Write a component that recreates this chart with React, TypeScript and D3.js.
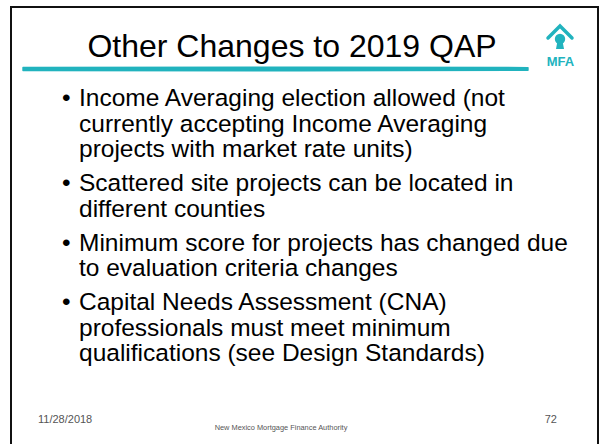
import React from "react";
import * as d3 from "d3";

const title = "Other Changes to 2019 QAP";
const bullets: string[][] = [
  ["Income Averaging election allowed (not", "currently accepting Income Averaging", "projects with market rate units)"],
  ["Scattered site projects can be located in", "different counties"],
  ["Minimum score for projects has changed due", "to evaluation criteria changes"],
  ["Capital Needs Assessment (CNA)", "professionals must meet minimum", "qualifications (see Design Standards)"],
];
const footerDate = "11/28/2018";
const footerOrg = "New Mexico Mortgage Finance Authority";
const pageNumber = "72";
const logoText = "MFA";

const W = 600;
const H = 444;
const TEAL = "#21b3be";
const FONT = "'Liberation Sans', Arial, sans-serif";

export default function App() {
  const lines: { text: string; b: number; first: boolean; idx: number }[] = [];
  let idx = 0;
  bullets.forEach((ls, b) => ls.forEach((t, i) => lines.push({ text: t, b, first: i === 0, idx: idx++ })));
  const lineH = 25.7;
  const gap = 8;
  const y = d3.scaleLinear().domain([0, 1]).range([106, 106 + lineH]);
  const yOf = (l: { b: number; idx: number }) => y(l.idx) + l.b * gap;

  return (
    <svg width={W} height={H} style={{ position: "absolute", left: 0, top: 0, background: "#fff" }}>
      <rect x={0} y={0} width={W} height={H} fill="#fff" />
      {/* frame */}
      <path d={`M11,${H + 2} L11,7 L598,7 L598,${H + 2}`} fill="none" stroke="#111" strokeWidth={2} />
      {/* title */}
      <text x={292} y={57} textAnchor="middle" fontFamily={FONT} fontSize={32} fill="#000">
        {title}
      </text>
      {/* teal rule */}
      <path d="M23,67.4 L300,67.2 L528,67.6 L528,70.2 L300,70.8 L23,70.6 Z" fill={TEAL} stroke={TEAL} strokeWidth={1.4} strokeLinejoin="round" />
      {/* logo */}
      <g fill={TEAL} stroke="none">
        <polyline points="548,38 560,26 572,38" fill="none" stroke={TEAL} strokeWidth={3.5} strokeLinecap="round" strokeLinejoin="miter" />
        <circle cx={560} cy={39} r={5.2} />
        <polygon points="557.5,41 562.5,41 564,49 556,49" />
        <text x={560.5} y={66} textAnchor="middle" fontFamily={FONT} fontWeight="bold" fontSize={13}>
          {logoText}
        </text>
      </g>
      {/* bullets */}
      {lines.map((l) => (
        <g key={l.idx}>
          {l.first && (
            <text x={62} y={yOf(l)} fontFamily={FONT} fontSize={24.5} fill="#000">
              •
            </text>
          )}
          <text x={79} y={yOf(l)} fontFamily={FONT} fontSize={24.5} fill="#000">
            {l.text}
          </text>
        </g>
      ))}
      {/* footer */}
      <text x={38} y={423} fontFamily={FONT} fontSize={11} fill="#555">
        {footerDate}
      </text>
      <text x={281} y={430} textAnchor="middle" fontFamily={FONT} fontSize={7.4} fill="#555">
        {footerOrg}
      </text>
      <text x={557} y={423} textAnchor="end" fontFamily={FONT} fontSize={11} fill="#555">
        {pageNumber}
      </text>
    </svg>
  );
}
